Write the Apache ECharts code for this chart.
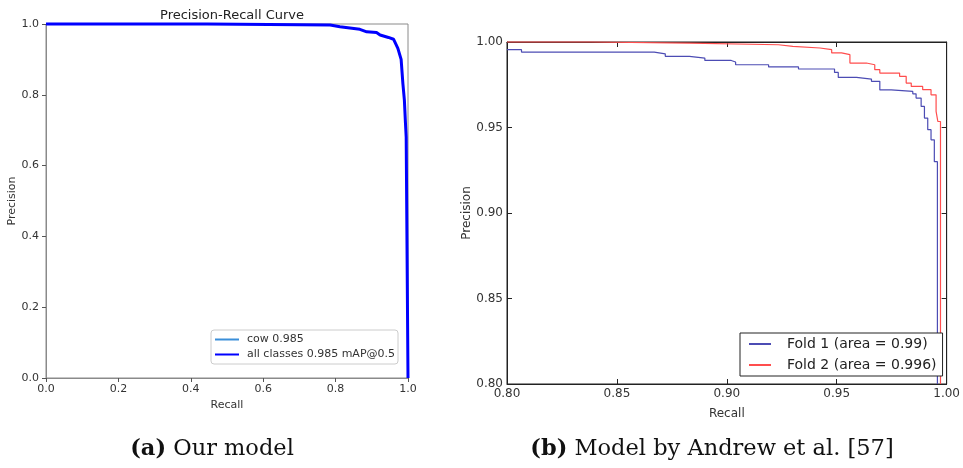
<!DOCTYPE html>
<html><head><meta charset="utf-8">
<script src="https://cdn.jsdelivr.net/npm/echarts@6/dist/echarts.min.js"></script>
<style>html,body{margin:0;padding:0;background:#fff}#c{width:963px;height:468px}</style>
</head><body><div id="c"></div>
<script>
// Left chart: our model PR curve
const leftRecall    = [0, 0.445, 0.445, 0.785, 0.812, 0.867, 0.886, 0.913, 0.923, 0.946, 0.96, 0.972, 0.981, 0.986, 0.99, 0.993, 0.995, 1.0, 1.0];
const leftPrecision = [1.0, 1.0, 0.997, 0.997, 0.992, 0.985, 0.978, 0.976, 0.969, 0.962, 0.957, 0.931, 0.90, 0.83, 0.785, 0.72, 0.68, 0.675, 0.0];
const leftTicks = [0.0, 0.2, 0.4, 0.6, 0.8, 1.0];

// Right chart: Andrew et al. folds (step curves)
const fold1Recall    = [0.80, 0.8066, 0.867, 0.872, 0.883, 0.890, 0.902, 0.904, 0.919, 0.9326, 0.949, 0.9507, 0.959, 0.9658, 0.9696, 0.9748, 0.9846, 0.9861, 0.9884, 0.9899, 0.9914, 0.9929, 0.9944, 0.9958];
const fold1Precision = [0.9955, 0.9941, 0.9931, 0.9916, 0.9906, 0.9892, 0.9883, 0.9867, 0.9854, 0.9842, 0.9822, 0.9793, 0.9783, 0.977, 0.972, 0.9711, 0.9697, 0.9672, 0.9623, 0.9555, 0.9487, 0.9428, 0.930, 0.80];
const fold2Recall    = [0.80, 0.8383, 0.883, 0.9235, 0.930, 0.9424, 0.9477, 0.9522, 0.956, 0.9635, 0.9673, 0.9696, 0.9786, 0.9816, 0.9839, 0.9891, 0.9929, 0.9952, 0.996, 0.9972];
const fold2Precision = [1.0, 0.9994, 0.9984, 0.9974, 0.9965, 0.9955, 0.9936, 0.9926, 0.9877, 0.9867, 0.9838, 0.9818, 0.9799, 0.976, 0.974, 0.9721, 0.9691, 0.9594, 0.9535, 0.80];
const rightTicks = [0.80, 0.85, 0.90, 0.95, 1.00];

const names = {
  cow: 'cow 0.985',
  all: 'all classes 0.985 mAP@0.5',
  f1: 'Fold 1 (area = 0.99)',
  f2: 'Fold 2 (area = 0.996)'
};
const captions = ['{b|(a)} Our model', '{b|(b)} Model by Andrew et al. [57]'];

const zip = (a, b) => a.map((v, i) => [v, b[i]]);
const font = 'DejaVu Sans';
const serif = 'DejaVu Serif';
const chart = echarts.init(document.getElementById('c'), null, {renderer: 'canvas'});

const leftAxisCommon = {
  type: 'value', min: 0, max: 1, interval: 0.2,
  axisLine: {show: true, lineStyle: {color: '#8a8a8a', width: 1}},
  axisTick: {show: true, inside: false, length: 4, lineStyle: {color: '#555'}},
  axisLabel: {fontFamily: font, fontSize: 11, color: '#333', formatter: v => v.toFixed(1), margin: 7},
  splitLine: {show: false},
  nameTextStyle: {fontFamily: font, fontSize: 11, color: '#333'}
};
const rightAxisCommon = {
  type: 'value', min: 0.8, max: 1, interval: 0.05,
  axisLine: {show: true, lineStyle: {color: '#222', width: 1}},
  axisTick: {show: true, inside: true, length: 5, lineStyle: {color: '#222'}},
  axisLabel: {fontFamily: font, fontSize: 12, color: '#333', formatter: v => v.toFixed(2), margin: 4},
  splitLine: {show: false},
  nameTextStyle: {fontFamily: font, fontSize: 12, color: '#333'}
};
const hiddenSymbol = {color: 'rgba(0,0,0,0)', borderColor: 'rgba(0,0,0,0)', borderWidth: 0, opacity: 0};

chart.setOption({
  animation: false,
  backgroundColor: '#fff',
  title: {
    text: 'Precision-Recall Curve', left: 227, top: 4, textAlign: 'center',
    textStyle: {fontFamily: font, fontSize: 13, fontWeight: 'normal', color: '#222'}
  },
  grid: [
    {left: 46, right: 555, top: 24, bottom: 90, show: true, borderColor: '#8a8a8a', borderWidth: 1},
    {left: 507, right: 14, top: 42, bottom: 84, show: true, borderColor: '#222', borderWidth: 1}
  ],
  xAxis: [
    Object.assign({}, leftAxisCommon, {gridIndex: 0, name: 'Recall', nameLocation: 'middle', nameGap: 21,
      axisLabel: Object.assign({}, leftAxisCommon.axisLabel, {margin: 6})}),
    Object.assign({}, rightAxisCommon, {gridIndex: 1, name: 'Recall', nameLocation: 'middle', nameGap: 24}),
    Object.assign({}, rightAxisCommon, {gridIndex: 1, position: 'top', axisLabel: {show: false}})
  ],
  yAxis: [
    Object.assign({}, leftAxisCommon, {gridIndex: 0, name: 'Precision', nameLocation: 'middle', nameGap: 27}),
    Object.assign({}, rightAxisCommon, {gridIndex: 1, name: 'Precision', nameLocation: 'middle', nameGap: 33}),
    Object.assign({}, rightAxisCommon, {gridIndex: 1, position: 'right', axisLabel: {show: false}})
  ],
  legend: [
    {
      left: 211, top: 330, orient: 'vertical', itemWidth: 24, itemHeight: 10, itemGap: 4,
      padding: [4, 3, 4, 3],
      borderColor: '#cccccc', borderWidth: 1, borderRadius: 3, backgroundColor: '#fff',
      itemStyle: hiddenSymbol,
      textStyle: {fontFamily: font, fontSize: 11, color: '#333', padding: [0, 0, 0, 3]},
      data: [names.cow, names.all]
    },
    {
      left: 740, top: 333, orient: 'vertical', itemWidth: 22, itemHeight: 10, itemGap: 7,
      padding: [4, 6, 4, 8],
      borderColor: '#222', borderWidth: 1, borderRadius: 0, backgroundColor: '#fff',
      itemStyle: hiddenSymbol,
      textStyle: {fontFamily: font, fontSize: 14, color: '#222', padding: [0, 0, 0, 11]},
      data: [names.f1, names.f2]
    }
  ],
  series: [
    {name: names.cow, type: 'line', xAxisIndex: 0, yAxisIndex: 0, showSymbol: false, symbol: 'none', clip: false,
      lineStyle: {color: '#3b8fd9', width: 1}, itemStyle: {color: '#3b8fd9'},
      data: zip(leftRecall, leftPrecision)},
    {name: names.all, type: 'line', xAxisIndex: 0, yAxisIndex: 0, showSymbol: false, symbol: 'none', clip: false,
      lineStyle: {color: '#0000ff', width: 3}, itemStyle: {color: '#0000ff'},
      data: zip(leftRecall, leftPrecision)},
    {name: names.f1, type: 'line', xAxisIndex: 1, yAxisIndex: 1, showSymbol: false, symbol: 'none', step: 'end', clip: false,
      lineStyle: {color: '#4c4cb4', width: 1.2}, itemStyle: {color: '#4c4cb4'},
      data: zip(fold1Recall, fold1Precision)},
    {name: names.f2, type: 'line', xAxisIndex: 1, yAxisIndex: 1, showSymbol: false, symbol: 'none', step: 'end', clip: false,
      lineStyle: {color: '#ff4d4d', width: 1.2}, itemStyle: {color: '#ff4d4d'},
      data: zip(fold2Recall, fold2Precision)}
  ],
  graphic: [
    {type: 'text', x: 212, y: 449, style: {text: captions[0], align: 'center', verticalAlign: 'middle',
      font: '22.5px "' + serif + '"', fill: '#111',
      rich: {b: {fontFamily: serif, fontSize: 22.5, fontWeight: 'bold', fill: '#111'}}}},
    {type: 'text', x: 712, y: 449, style: {text: captions[1], align: 'center', verticalAlign: 'middle',
      font: '22.5px "' + serif + '"', fill: '#111',
      rich: {b: {fontFamily: serif, fontSize: 22.5, fontWeight: 'bold', fill: '#111'}}}}
  ]
});
</script></body></html>
